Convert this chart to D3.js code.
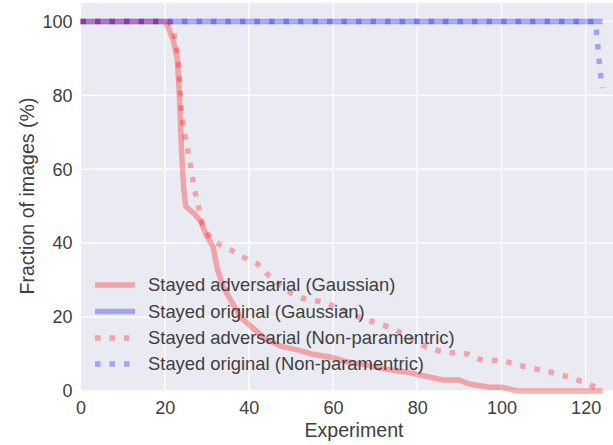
<!DOCTYPE html>
<html>
<head>
<meta charset="utf-8">
<script src="https://cdn.jsdelivr.net/npm/d3@7"></script>
<style>
  html, body { margin: 0; padding: 0; background: #ffffff; }
  svg { display: block; }
  text { font-family: "Liberation Sans", Arial, sans-serif; }
</style>
</head>
<body>
<svg id="chart" width="613" height="445"></svg>
<script>
// ---------- data ----------
const xTicks = [0, 20, 40, 60, 80, 100, 120];
const yTicks = [0, 20, 40, 60, 80, 100];

const seriesNames = [
  "Stayed adversarial (Gaussian)",
  "Stayed original (Gaussian)",
  "Stayed adversarial (Non-paramentric)",
  "Stayed original (Non-paramentric)"
];

// Stayed adversarial (Gaussian)
const advGaussX = [0, 20, 21, 22, 23, 23.5, 24, 24.5, 25, 27, 28.5, 30, 31.5, 32.5, 34, 36, 38, 41, 44, 48, 52, 55, 60, 63, 68, 72, 78, 82, 86, 90, 92, 97, 100, 104, 124];
const advGaussY = [100, 100, 98, 95, 90, 80, 65, 55, 50, 48, 46, 42, 39, 33, 28, 24, 20, 17, 14, 12, 11, 10, 9, 8, 7, 6, 5, 4, 3, 3, 2, 1, 1, 0, 0];

// Stayed original (Gaussian)
const origGaussX = [0, 124];
const origGaussY = [100, 100];

// Stayed adversarial (Non-parametric)
const advNpX = [0, 21, 22, 23, 23.5, 24, 25, 26, 27, 28, 29, 31, 32.5, 36, 39, 42, 44, 47, 50, 53, 58, 62, 66, 70, 74, 78, 82, 86, 92, 95, 101, 104, 108, 112, 116, 120, 122, 124];
const advNpY = [100, 100, 98, 92, 85, 75, 68, 62, 55, 50, 45, 41, 40, 38, 36, 34.5, 32, 29, 26.5, 25, 24, 22, 20, 18.5, 17, 14.5, 12, 10.6, 10, 8.5, 8, 7, 6, 5, 3.8, 2.2, 1.2, 0];

// Stayed original (Non-parametric)
const origNpX = [0, 122, 122.5, 123, 123.5, 124];
const origNpY = [100, 100, 98, 92, 86, 82];

// ---------- layout ----------
const plot = { left: 80.5, right: 613, top: 3, bottom: 391 };

const svg = d3.select("#chart");

const x = d3.scaleLinear().domain([0, 126.5]).range([plot.left, plot.right]);
const y = d3.scaleLinear().domain([0, 105]).range([plot.bottom, plot.top]);

// background
svg.append("rect")
  .attr("x", plot.left).attr("y", plot.top)
  .attr("width", plot.right - plot.left).attr("height", plot.bottom - plot.top)
  .attr("fill", "#EAEAF2");

// grid
const grid = svg.append("g");
grid.selectAll("line.gx").data(xTicks).enter().append("line")
  .attr("x1", d => x(d)).attr("x2", d => x(d))
  .attr("y1", plot.top).attr("y2", plot.bottom)
  .attr("stroke", "#ffffff").attr("stroke-width", 1.4);
grid.selectAll("line.gy").data(yTicks).enter().append("line")
  .attr("x1", plot.left).attr("x2", plot.right)
  .attr("y1", d => y(d)).attr("y2", d => y(d))
  .attr("stroke", "#ffffff").attr("stroke-width", 1.4);

// axes
const textColor = "#404040";
const xAxis = svg.append("g")
  .attr("transform", `translate(0,${plot.bottom})`)
  .call(d3.axisBottom(x).tickValues(xTicks).tickSize(0).tickPadding(10).tickFormat(d3.format("d")));
const yAxis = svg.append("g")
  .attr("transform", `translate(${plot.left},0)`)
  .call(d3.axisLeft(y).tickValues(yTicks).tickSize(0).tickPadding(8).tickFormat(d3.format("d")));
[xAxis, yAxis].forEach(g => {
  g.select(".domain").remove();
  g.selectAll("text")
    .attr("font-family", "'Liberation Sans', Arial, sans-serif")
    .attr("font-size", 18)
    .attr("fill", textColor);
});

// axis labels
svg.append("text")
  .attr("x", 354).attr("y", 437)
  .attr("text-anchor", "middle")
  .attr("font-size", 19.6)
  .attr("fill", textColor)
  .text("Experiment");
svg.append("text")
  .attr("transform", "translate(34,196) rotate(-90)")
  .attr("text-anchor", "middle")
  .attr("font-size", 19.6)
  .attr("fill", textColor)
  .text("Fraction of images (%)");

// lines
const RED = "rgba(255,0,0,0.3)";
const BLUE = "rgba(0,0,255,0.3)";
const LW = 5.5;
const DASH = "5.5 9";

const series = [
  { name: seriesNames[0], xs: advGaussX, ys: advGaussY, color: RED, dash: null },
  { name: seriesNames[1], xs: origGaussX, ys: origGaussY, color: BLUE, dash: null },
  { name: seriesNames[2], xs: advNpX, ys: advNpY, color: RED, dash: DASH },
  { name: seriesNames[3], xs: origNpX, ys: origNpY, color: BLUE, dash: DASH }
];

const line = d3.line().x(d => x(d[0])).y(d => y(d[1]));

svg.append("g").selectAll("path").data(series).enter().append("path")
  .attr("d", s => line(s.xs.map((v, i) => [v, s.ys[i]])))
  .attr("fill", "none")
  .attr("stroke", s => s.color)
  .attr("stroke-width", LW)
  .attr("stroke-dasharray", s => s.dash)
  .attr("stroke-linejoin", "round");

// legend
const legend = svg.append("g");
const legRowY = [285, 311.5, 338, 364];
series.forEach((s, i) => {
  legend.append("line")
    .attr("x1", 95).attr("x2", 135)
    .attr("y1", legRowY[i]).attr("y2", legRowY[i])
    .attr("stroke", s.color)
    .attr("stroke-width", LW)
    .attr("stroke-dasharray", s.dash);
  legend.append("text")
    .attr("x", 148).attr("y", legRowY[i])
    .attr("dy", "0.35em")
    .attr("font-size", 18.4)
    .attr("fill", textColor)
    .text(s.name);
});
</script>
</body>
</html>
